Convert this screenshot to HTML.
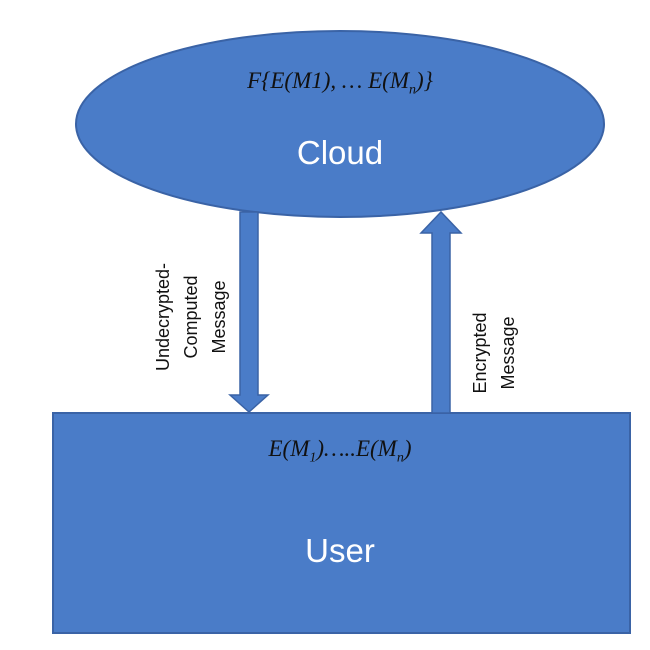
<!DOCTYPE html>
<html><head><style>
body{margin:0;background:#fff;width:650px;height:650px;overflow:hidden;position:relative;font-family:"Liberation Sans",sans-serif}
.t{position:absolute;color:#fff;text-align:center}
.v{position:absolute;transform:translate(-50%,-50%) rotate(-90deg);white-space:nowrap;font-size:18px;line-height:28px;text-align:center;color:#111}
.m{font-family:"Liberation Serif",serif;font-style:italic}
</style></head><body>
<svg width="650" height="650" style="position:absolute;left:0;top:0">
<ellipse cx="340" cy="124" rx="264" ry="93" fill="#4a7cc8" stroke="#3a63a6" stroke-width="2"/>
<rect x="53" y="413" width="577" height="220" fill="#4a7cc8" stroke="#3a63a6" stroke-width="2"/>
<polygon points="240,212 258,212 258,395 268,395 249,412 230,395 240,395" fill="#4a7cc8" stroke="#3a63a6" stroke-width="1.5"/>
<polygon points="432,413 450,413 450,233 461,233 441,212 421,233 432,233" fill="#4a7cc8" stroke="#3a63a6" stroke-width="1.5"/>
</svg>
<div class="t m" style="left:140px;width:400px;top:68px;font-size:23px;color:#111">F{E(M1), … E(M<sub style="font-size:14px">n</sub>)}</div>
<div class="t" style="left:140px;width:400px;top:134px;font-size:33px">Cloud</div>
<div class="t m" style="left:140px;width:400px;top:436px;font-size:23px;color:#111">E(M<sub style="font-size:14px">1</sub>)…..E(M<sub style="font-size:14px">n</sub>)</div>
<div class="t" style="left:140px;width:400px;top:532px;font-size:33px">User</div>
<div class="v" style="left:191px;top:317px">Undecrypted-<br>Computed<br>Message</div>
<div class="v" style="left:494px;top:353px">Encrypted<br>Message</div>
</body></html>
